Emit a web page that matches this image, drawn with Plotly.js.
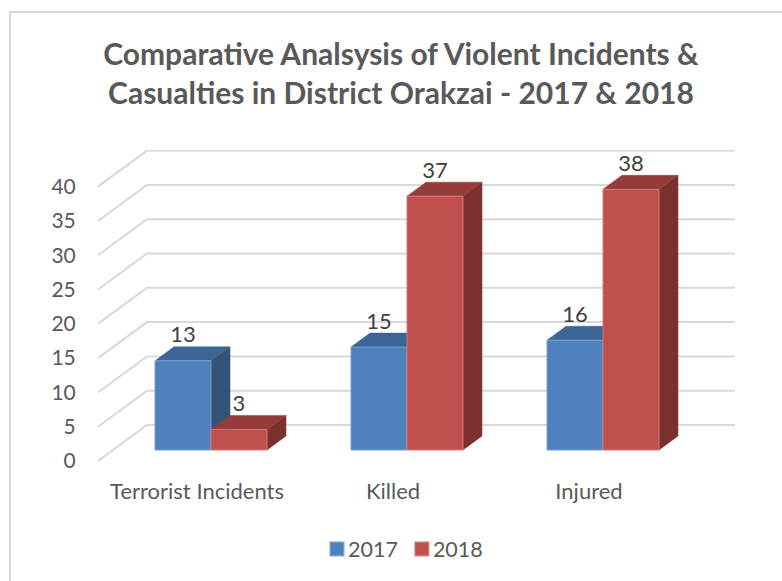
<!DOCTYPE html>
<html>
<head>
<meta charset="utf-8">
<script src="https://cdn.plot.ly/plotly-3.0.1.min.js"></script>
<style>html,body{margin:0;padding:0;background:#fff;overflow:hidden}</style>
</head>
<body>
<div id="chart" style="width:782px;height:581px"></div>
<script>
const categories = ["Terrorist Incidents", "Killed", "Injured"];
const years = ["2017", "2018"];
const values2017 = [13, 15, 16];
const values2018 = [3, 37, 38];
const yTicks = [0, 5, 10, 15, 20, 25, 30, 35, 40];
const titleText = "Comparative Analsysis of Violent Incidents &<br>Casualties in District Orakzai - 2017 & 2018";

const W = 782, H = 581;
const M = {l: 98, r: 47, t: 150, b: 120};
const plotW = W - M.l - M.r, plotH = H - M.t - M.b;
const pxX = 196, pxY = 6.86;              // pixels per category / per unit
const xRange = [-99 / pxX, 2 + 146 / pxX];
const yRange = [0, plotH / pxY];

const catIdx = categories.map((_, i) => i);
const barW = 56 / pxX;
const floorX = 14 / pxX, floorY = 11 / pxY;   // bar front plane relative to axis plane
const depthX = 19 / pxX, depthY = 14 / pxY;   // bar depth
const wallX = 49 / pxX, wallY = 36 / pxY;     // back wall offset

const colors = {
  "2017": {front: "#4f81bd", edge: "#7ba0cd", top: "#3a6595", side: "#335379"},
  "2018": {front: "#c0504d", edge: "#cf7b79", top: "#953b39", side: "#7b302e"}
};
const GRID = "#d9d9d9", TXT = "#595959";

const traces = [];

// gridlines: front-left diagonal then along the back wall
yTicks.forEach(t => {
  traces.push({
    type: "scatter", mode: "lines", showlegend: false, hoverinfo: "skip",
    x: [xRange[0], xRange[0] + wallX, xRange[1]],
    y: [t, t + wallY, t + wallY],
    line: {color: GRID, width: 2}
  });
});

function faces(vals, left, year) {
  const c = colors[year];
  vals.forEach((v, i) => {
    const x0 = i + floorX + left, x1 = x0 + barW;
    const y0 = floorY, y1 = floorY + v;
    traces.push({
      type: "scatter", mode: "lines", fill: "toself", fillcolor: c.side, showlegend: false, hoverinfo: "skip",
      x: [x1, x1 + depthX, x1 + depthX, x1, x1],
      y: [y0, y0 + depthY, y1 + depthY, y1, y0],
      line: {color: c.side, width: 0.5}
    });
    traces.push({
      type: "scatter", mode: "lines", fill: "toself", fillcolor: c.top, showlegend: false, hoverinfo: "skip",
      x: [x0, x0 + depthX, x1 + depthX, x1, x0],
      y: [y1, y1 + depthY, y1 + depthY, y1, y1],
      line: {color: c.top, width: 0.5}
    });
  });
}
faces(values2017, -barW, "2017");
faces(values2018, 0, "2018");

// front faces on an overlaying subplot so that they sit above the side faces
[[values2017, -barW, "2017"], [values2018, 0, "2018"]].forEach(([vals, left, year]) => {
  traces.push({
    type: "bar", name: year, xaxis: "x2", yaxis: "y2",
    x: catIdx.map(i => i + floorX + left + barW / 2),
    y: vals, base: vals.map(() => floorY), width: vals.map(() => barW),
    marker: {color: colors[year].front, line: {color: colors[year].edge, width: 1}},
    hovertemplate: "%{y}<extra>" + year + "</extra>"
  });
  traces.push({
    type: "scatter", mode: "text", xaxis: "x2", yaxis: "y2", showlegend: false, hoverinfo: "skip",
    x: catIdx.map(i => i + floorX + left + barW / 2),
    y: vals.map(v => v + floorY + depthY + 10 / pxY),
    text: vals.map(String), textposition: "middle center",
    textfont: {family: "Lato, Carlito, sans-serif", size: 22, color: "#404040"}
  });
});

const px = v => (v - M.l) / plotW;
const py = v => (H - M.b - v) / plotH;
const shapes = [
  {type: "line", xref: "paper", yref: "paper", x0: px(9), x1: px(782), y0: py(12), y1: py(12), line: {color: GRID, width: 2}},
  {type: "line", xref: "paper", yref: "paper", x0: px(10), x1: px(10), y0: py(11), y1: py(581), line: {color: GRID, width: 2}}
];

const layout = {
  width: W, height: H, margin: M, autosize: false,
  paper_bgcolor: "#fff", plot_bgcolor: "rgba(0,0,0,0)",
  font: {family: "Lato, Carlito, sans-serif", color: TXT},
  title: {
    text: titleText, x: 401 / W, xanchor: "center", y: 1 - 65 / H, yanchor: "middle",
    font: {family: "Lato, Carlito, sans-serif", size: 30, color: TXT, weight: 700}
  },
  barmode: "overlay",
  xaxis: {
    range: xRange, showgrid: false, zeroline: false, showline: false,
    tickmode: "array", tickvals: catIdx, ticktext: categories,
    ticks: "outside", ticklen: 11, tickcolor: "rgba(0,0,0,0)",
    tickfont: {size: 22, color: TXT}
  },
  yaxis: {
    range: yRange, showgrid: false, zeroline: false, showline: false,
    tickmode: "array", tickvals: yTicks, ticktext: yTicks.map(String),
    ticks: "outside", ticklen: 17, tickcolor: "rgba(0,0,0,0)",
    tickfont: {size: 21, color: TXT}
  },
  xaxis2: {range: xRange, overlaying: "x", visible: false},
  yaxis2: {range: yRange, overlaying: "y", visible: false},
  legend: {
    orientation: "h", x: px(308), xanchor: "left", y: py(549), yanchor: "middle",
    font: {size: 21.5, color: TXT}, bgcolor: "rgba(0,0,0,0)", itemclick: false, itemdoubleclick: false
  },
  shapes: shapes,
  showlegend: true
};

Plotly.newPlot("chart", traces, layout, {displayModeBar: false}).then(gd => {
  // tighten legend entries: swatch closer to its label, entries closer together
  const items = gd.querySelectorAll(".legend .traces");
  items.forEach((it, i) => {
    const lp = it.querySelector(".legendpoints");
    if (lp) lp.setAttribute("transform", "translate(6,0) scale(1.15)");
    if (i > 0) {
      const m = /translate\(([-\d.]+),\s*([-\d.]+)\)/.exec(it.getAttribute("transform") || "");
      if (m) it.setAttribute("transform", "translate(" + (parseFloat(m[1]) - 10 * i) + "," + m[2] + ")");
    }
  });
});
</script>
</body>
</html>
